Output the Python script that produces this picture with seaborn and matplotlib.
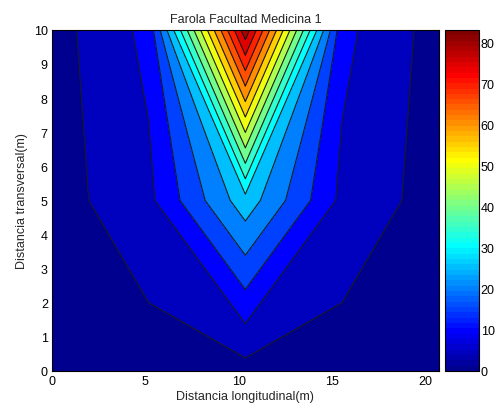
import numpy as np
import seaborn as sns
import matplotlib
matplotlib.use("Agg")
import matplotlib.pyplot as plt
from matplotlib.colors import Normalize, ListedColormap
from matplotlib.cm import ScalarMappable

# grid (kinks of the contour lines)
x_m = [0, 5.175, 10.35, 15.525, 20.7]
y_m = [0, 5, 10]
z_y0 = [0.0, 2.5, 3.1, 2.5, 0.0]
z_y5 = [2.7, 8.75, 28.0, 8.75, 2.7]
z_y10 = [2.8, 11.45, 83.2, 11.45, 2.8]
levels = [0, 5, 10, 15, 20, 25, 30, 35, 40, 45, 50, 55, 60, 65, 70, 75, 80, 83.2]
cbar_ticks = [0, 10, 20, 30, 40, 50, 60, 70, 80]


def matlab_jet(m=64):
    n = int(np.ceil(m / 4))
    u = np.concatenate([np.arange(1, n + 1) / n, np.ones(n - 1), np.arange(n, 0, -1) / n])
    g = int(np.ceil(n / 2)) - (1 if m % 4 == 1 else 0) + np.arange(1, len(u) + 1)
    r = g + n
    b = g - n
    J = np.zeros((m, 3))
    for idx, ch in ((r, 0), (g, 1), (b, 2)):
        ok = (idx >= 1) & (idx <= m)
        J[idx[ok] - 1, ch] = u[ok]
    return ListedColormap(J)


sns.set_theme(style="white")
plt.rcParams["font.family"] = ["Liberation Sans", "DejaVu Sans"]
plt.rcParams["font.size"] = 9
plt.rcParams["xtick.direction"] = "in"
plt.rcParams["ytick.direction"] = "in"

X, Y = np.meshgrid(x_m, y_m)
Z = np.array([z_y0, z_y5, z_y10])
zmax = Z.max()
jet = matlab_jet(64)

fig = plt.figure(figsize=(4.97, 4.10), dpi=100)
ax = fig.add_axes([0.1046, 0.0927, 0.778, 0.832])
cax = fig.add_axes([0.8960, 0.0927, 0.0684, 0.832])

# MATLAB colours each band by its lower level -> shift the norm by half a step
ax.contourf(X, Y, Z, levels=levels, cmap=jet, vmin=2.5, vmax=zmax + 2.5)
ax.contour(X, Y, Z, levels=levels[1:-1], colors="k", linewidths=0.8)

ax.set_xlim(0, 20.7)
ax.set_ylim(0, 10)
ax.set_xticks([0, 5, 10, 15, 20])
ax.set_yticks(range(0, 11))
ax.tick_params(top=True, right=True, length=3, width=0.5, labelsize=9, pad=3, colors="black")
for s in ax.spines.values():
    s.set_color("black")
    s.set_linewidth(0.8)
ax.set_title("Farola Facultad Medicina 1", fontsize=9, pad=6)
ax.set_xlabel("Distancia longitudinal(m)", fontsize=9, labelpad=2)
ax.set_ylabel("Distancia transversal(m)", fontsize=9, labelpad=4)

sm = ScalarMappable(norm=Normalize(0, zmax), cmap=jet)
cb = fig.colorbar(sm, cax=cax, ticks=cbar_ticks)
cb.outline.set_color("black")
cb.outline.set_linewidth(0.8)
cax.tick_params(labelsize=9, length=3, width=0.5, pad=1, direction="in", left=True, right=True, colors="black")

fig.savefig("out.png", dpi=100)
